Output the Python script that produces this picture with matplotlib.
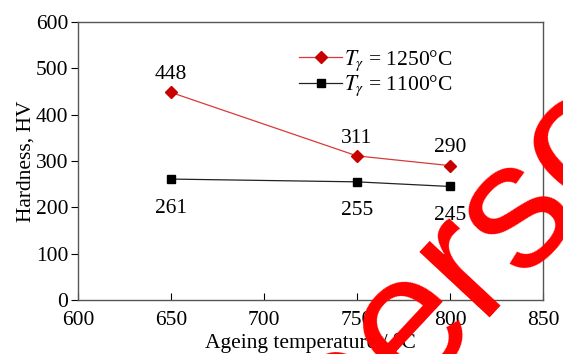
import matplotlib
matplotlib.use('Agg')
import matplotlib.pyplot as plt

# ageing temperature (°C) vs hardness (HV) for two austenitising temperatures
ageing_temp = [650, 750, 800]
hv_1250 = [448, 311, 290]
hv_1100 = [261, 255, 245]

plt.rcParams['font.family'] = ['Liberation Serif', 'DejaVu Serif']
plt.rcParams['mathtext.fontset'] = 'stix'
FS = 15.5

fig = plt.figure(figsize=(5.63, 3.54), dpi=100)
ax = fig.add_axes([78 / 563, 1 - 300 / 354, (543 - 78) / 563, (300 - 22) / 354])

ax.plot(ageing_temp, hv_1250, '-', color='#d83a3a', lw=0.9, marker='D',
        ms=6.5, mfc='#c80000', mec='#c80000', label=r'$T_\gamma$ = 1250°C')
ax.plot(ageing_temp, hv_1100, '-', color='#222222', lw=0.9, marker='s',
        ms=6, mfc='black', mec='black', label=r'$T_\gamma$ = 1100°C')

# value labels: red above, black below
for x, y in zip(ageing_temp, hv_1250):
    ax.annotate(str(y), (x, y), xytext=(0, 6), textcoords='offset points',
                ha='center', va='bottom', fontsize=FS)
for x, y in zip(ageing_temp, hv_1100):
    ax.annotate(str(y), (x, y), xytext=(0, -14), textcoords='offset points',
                ha='center', va='top', fontsize=FS)

ax.set_xlim(600, 850)
ax.set_ylim(0, 600)
ax.set_xticks(range(600, 851, 50))
ax.set_yticks(range(0, 601, 100))
ax.tick_params(axis='x', direction='in', length=5, labelsize=FS, pad=8)
ax.tick_params(axis='y', direction='out', length=5, labelsize=FS, pad=2)
for s in ax.spines.values():
    s.set_color('#555555')
    s.set_linewidth(1.0)

ax.set_xlabel('Ageing temperature / °C', fontsize=FS, labelpad=2)
ax.set_ylabel('Hardness, HV', fontsize=FS, labelpad=0)

ax.legend(loc='upper left', bbox_to_anchor=(0.443, 0.96), frameon=False,
          fontsize=FS, handlelength=2.0, handletextpad=0.1,
          labelspacing=0.05, borderpad=0.2)

# red watermark across the lower right corner
fig.text(0.82, 0.245, 'perso', color='#ff0000', fontsize=130,
         family='Liberation Sans', rotation=47, ha='center', va='center',
         rotation_mode='anchor')

fig.savefig('out.png', dpi=100)
